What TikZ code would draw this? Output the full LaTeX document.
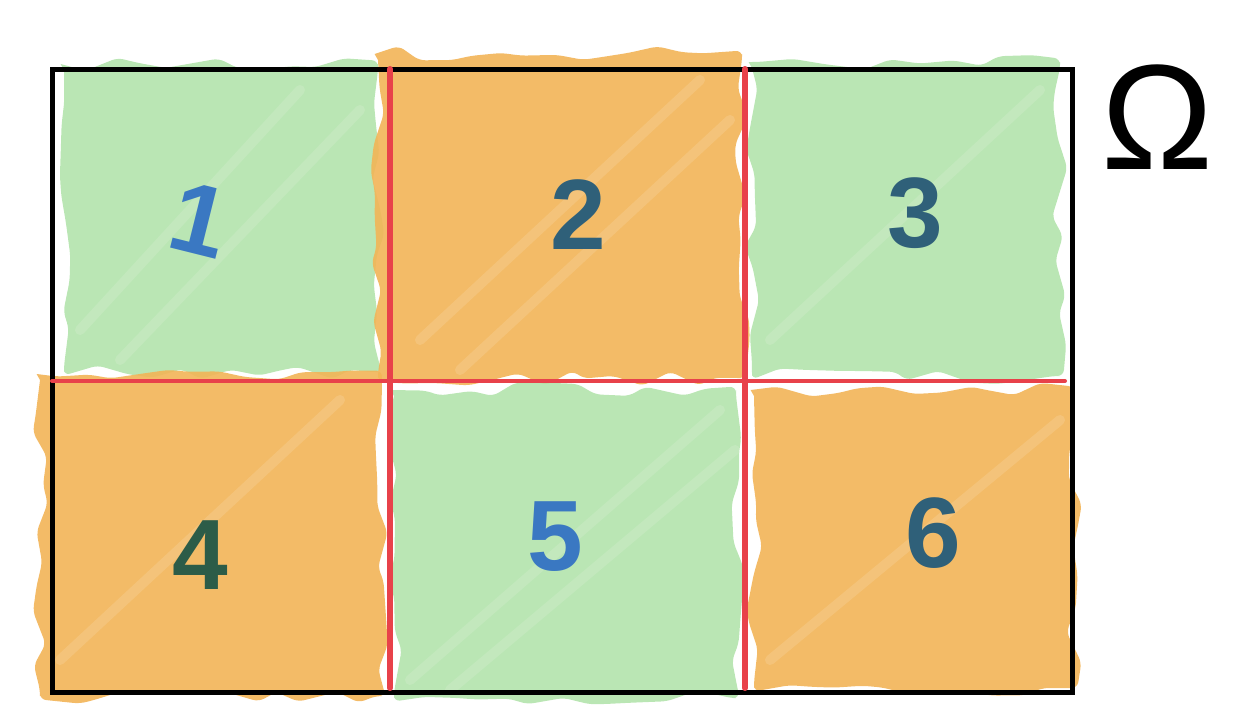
\documentclass[tikz,border=0pt]{standalone}
\usepackage{fontspec}
\setmainfont{Liberation Sans}
\usetikzlibrary{decorations.pathmorphing}
\definecolor{gfill}{HTML}{B3E3AC}
\definecolor{ofill}{HTML}{F2B457}
\definecolor{gridred}{HTML}{E8414A}
\definecolor{numblue}{HTML}{3A78C2}
\definecolor{numteal}{HTML}{2F6079}
\definecolor{numgreen}{HTML}{2C5C48}
\tikzset{
  greenpatch/.style={fill=gfill, draw=none, opacity=0.9, decorate, decoration={random steps, segment length=26pt, amplitude=8pt}, rounded corners=6pt},
  orangepatch/.style={fill=ofill, draw=none, opacity=0.9, decorate, decoration={random steps, segment length=26pt, amplitude=8pt}, rounded corners=6pt},
  cellnum/.style={font=\fontsize{100}{100}\selectfont\bfseries, inner sep=0pt},
  redline/.style={draw=gridred, line width=6pt, line cap=round},
}
\begin{document}
\begin{tikzpicture}[x=1pt,y=-1pt]
\useasboundingbox (0,0) rectangle (1234,716);
\pgfmathsetseed{11}
% colour patches
\fill[greenpatch] (64,64) rectangle (378,372);
\fill[orangepatch] (378,54) rectangle (742,378);
\fill[greenpatch] (752,62) rectangle (1060,376);
\fill[orangepatch] (40,374) rectangle (382,696);
\fill[greenpatch] (394,390) rectangle (736,698);
\fill[orangepatch] (754,390) rectangle (1074,688);
% lighter streaks
\foreach \a/\b/\c/\d in {80/330/300/90, 120/360/360/110, 420/340/700/80, 460/370/730/120, 770/340/1040/90, 60/660/340/400, 410/680/720/410, 450/690/735/450, 770/660/1060/420}
  \draw[white, opacity=0.12, line width=10pt, line cap=round] (\a,\b) -- (\c,\d);
% frame
\node[draw=black, line width=5pt, minimum width=1020pt, minimum height=623pt, inner sep=0pt] (omega) at (562,380.5) {};
\coordinate (v1t) at (390,69);
\coordinate (v1b) at (390,688);
\coordinate (v2t) at (745,69);
\coordinate (v2b) at (745,688);
\coordinate (hl) at (52,381);
\coordinate (hr) at (1065,381);
\draw[redline, line width=4pt] (hl) -- (hr);
\draw[redline] (v1t) -- (v1b);
\draw[redline] (v2t) -- (v2b);
% numbers
\node[cellnum, text=numblue, rotate=-14] (n1) at (200,220) {1};
\node[cellnum, text=numteal] (n2) at (578,215) {2};
\node[cellnum, text=numteal] (n3) at (915,213) {3};
\node[cellnum, text=numgreen] (n4) at (200,555) {4};
\node[cellnum, text=numblue] (n5) at (555,537) {5};
\node[cellnum, text=numteal] (n6) at (933,533) {6};
\node[font=\fontsize{150}{150}\selectfont, inner sep=0pt] (lab) at (1158,117) {Ω};
\end{tikzpicture}
\end{document}
